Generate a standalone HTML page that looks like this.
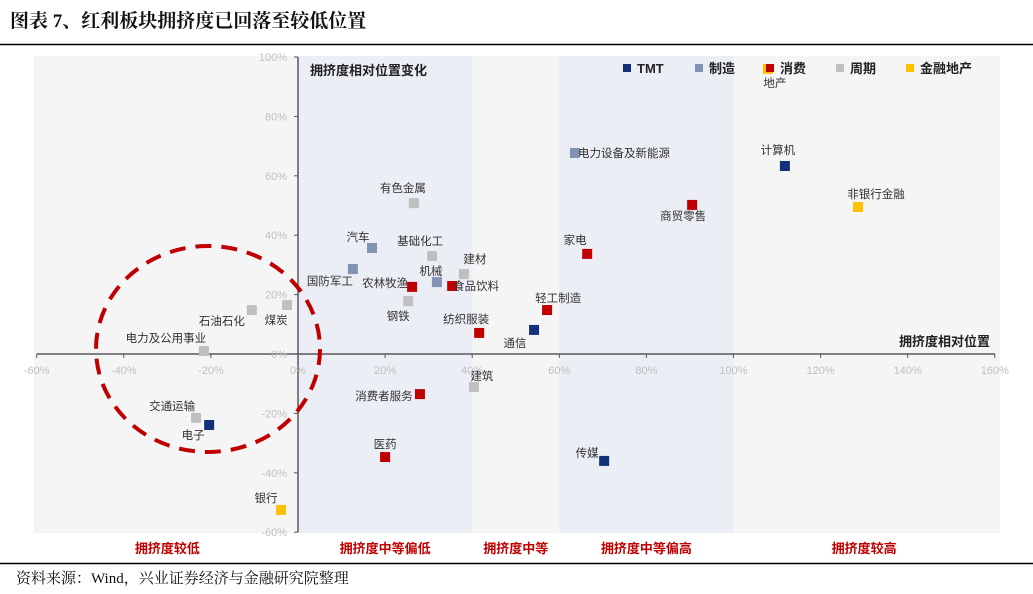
<!DOCTYPE html>
<html><head><meta charset="utf-8"><style>
body{margin:0;background:#fff;width:1033px;height:589px;overflow:hidden;font-family:"Liberation Sans","Noto Sans CJK SC",sans-serif}
svg text{font-family:"Liberation Sans","Noto Sans CJK SC",sans-serif}
</style></head><body>
<svg id="chart" width="1033" height="589">
<text x="10" y="27" style="font-family:'Liberation Serif','Noto Serif CJK SC',serif" font-size="19" font-weight="bold" fill="#111">图表 7、红利板块拥挤度已回落至较低位置</text>
<line x1="0" y1="44.5" x2="1033" y2="44.5" stroke="#000" stroke-width="1.5"/>
<rect x="34" y="56" width="966" height="477" fill="#f5f5f5"/>
<g id="bands"></g><g id="axes"></g><g id="marks"></g>
<line x1="0" y1="563.5" x2="1033" y2="563.5" stroke="#000" stroke-width="1.5"/>
<text x="16" y="583" style="font-family:'Liberation Serif','Noto Serif CJK SC',serif" font-size="15" fill="#111">资料来源：Wind，兴业证券经济与金融研究院整理</text>
</svg>
<script>
const groups=['TMT','制造','消费','周期','金融地产'];
const colors=['#13307a','#8093b3','#c00000','#bfbfbf','#ffc000'];
const names=['计算机','通信','电子','传媒','电力设备及新能源','汽车','国防军工','机械','商贸零售','家电','轻工制造','农林牧渔','食品饮料','纺织服装','消费者服务','医药','有色金属','基础化工','建材','钢铁','石油石化','煤炭','电力及公用事业','建筑','交通运输','非银行金融','银行','地产'];
const groupOf=[0,0,0,0,1,1,1,1,2,2,2,2,2,2,2,2,3,3,3,3,3,3,3,3,3,4,4,4];
const xVals=[111.8,54.2,-20.4,70.3,63.6,17,12.6,31.9,90.5,66.4,57.2,26.2,35.4,41.6,28,20,26.6,30.8,38.1,25.3,-10.6,-2.5,-21.6,40.4,-23.4,128.6,-3.9,107.9];
const yVals=[63.3,8.1,-23.9,-36,67.7,35.7,28.6,24.2,50.2,33.7,14.8,22.6,22.9,7.1,-13.5,-34.7,50.8,33,26.9,17.8,14.8,16.5,1,-11.1,-21.5,49.5,-52.5,96];
const xTicks=[-60,-40,-20,0,20,40,60,80,100,120,140,160];
const yTicks=[-60,-40,-20,0,20,40,60,80,100];
const zoneLabels=['拥挤度较低','拥挤度中等偏低','拥挤度中等','拥挤度中等偏高','拥挤度较高'];
const zoneCenters=[-30,20,50,80,130];
// label layout offsets (pixels), not data
const labDX=[-7,-19,-16,-17,49,-14,-23,-6,-9,-12,11,-27,24,-13,-36,0,-11,-12,11,-10,-30,-11,-38,8,-24,18,-15,7];
const labDY=[-16,13,10,-8,0,-11,12,-11,11,-14,-12,-4,0,-14,2,-13,-15,-15,-15,15,11,15,-13,-11,-12,-13,-12,14];

const X=v=>298+(v)*4.355;
const Y=v=>354-(v)*2.97;
const NS='http://www.w3.org/2000/svg';
function mk(parent,tag,attrs){const e=document.createElementNS(NS,tag);for(const k in attrs)e.setAttribute(k,attrs[k]);parent.appendChild(e);return e;}
const bands=document.getElementById('bands'),axes=document.getElementById('axes'),marks=document.getElementById('marks');
let b=mk(bands,'rect',{x:X(0),y:56,width:X(40)-X(0),height:477,fill:'#eceef5'});


b=mk(bands,'rect',{x:X(60),y:56,width:X(100)-X(60),height:477,fill:'#eceef5'});


let a=mk(axes,'line',{x1:X(-60),x2:X(160),y1:Y(0),y2:Y(0),stroke:'#595959','stroke-width':1.5});


a=mk(axes,'line',{x1:X(0),x2:X(0),y1:Y(100),y2:Y(-60),stroke:'#595959','stroke-width':1.5});


xTicks.forEach(t=>{
  mk(axes,'line',{x1:X(t),x2:X(t),y1:Y(0),y2:Y(0)+4,stroke:'#595959'});
  const tx=mk(axes,'text',{x:X(t),y:Y(0)+20,'text-anchor':'middle','font-size':11,fill:'#bfbfbf'});
  tx.textContent=t+'%';
  
  
});
yTicks.forEach(t=>{
  mk(axes,'line',{x1:X(0)-4,x2:X(0),y1:Y(t),y2:Y(t),stroke:'#595959'});
  const tx=mk(axes,'text',{x:X(0)-11,y:Y(t)+4,'text-anchor':'end','font-size':11,fill:'#bfbfbf'});
  tx.textContent=t+'%';
  
  
});
let t=mk(axes,'text',{x:310,y:75,'font-size':13,'font-weight':'bold',fill:'#222'});
t.textContent='拥挤度相对位置变化';


t=mk(axes,'text',{x:990,y:346,'text-anchor':'end','font-size':13,'font-weight':'bold',fill:'#222'});
t.textContent='拥挤度相对位置';


zoneLabels.forEach((z,i)=>{
  const e=mk(axes,'text',{x:X(zoneCenters[i]),y:553,'text-anchor':'middle','font-size':13,'font-weight':'bold',fill:'#c00000'});
  e.textContent=z;
  
  
});
names.forEach((n,i)=>{
  const px=X(xVals[i]),py=Y(yVals[i]);
  const r=mk(marks,'rect',{x:px-5,y:py-5,width:10,height:10,fill:colors[groupOf[i]]});
  
  
  const l=mk(marks,'text',{x:px+labDX[i],y:py+labDY[i]+4,'text-anchor':'middle','font-size':11.5,fill:'#333'});
  l.textContent=n;
  
  
});
const ell=mk(marks,'ellipse',{cx:208,cy:349,rx:112,ry:103,fill:'none',stroke:'#c00000','stroke-width':4,'stroke-dasharray':'16 10'});


const legX=[623,695,766,836,906];
groups.forEach((g,i)=>{
  const s=mk(marks,'rect',{x:legX[i],y:64,width:8,height:8,fill:colors[i]});
  
  
  const e=mk(marks,'text',{x:legX[i]+14,y:73,'font-size':13,'font-weight':'bold',fill:'#222'});
  e.textContent=g;
  
  
});
</script>
</body></html>
